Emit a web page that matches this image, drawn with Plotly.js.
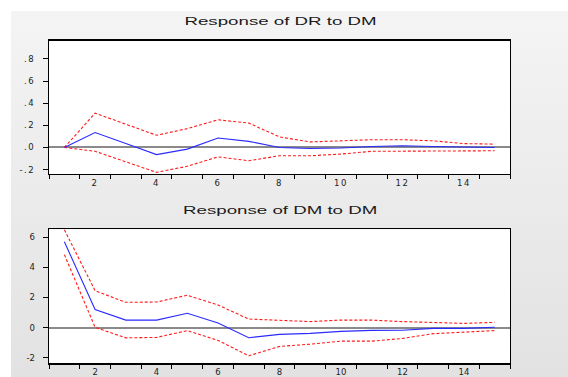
<!DOCTYPE html>
<html>
<head>
<meta charset="utf-8">
<script src="https://cdn.plot.ly/plotly-3.0.1.min.js"></script>
<style>
html,body{margin:0;padding:0;background:#fff;}
#chart{width:568px;height:377px;background-color:#fff;
  background-image:linear-gradient(#f4f4f4,#e2e2e2);background-repeat:no-repeat;
  background-position:11px 11px;background-size:557px 366px;}
.ttl .annotation-text{transform-box:fill-box;transform-origin:center;transform:scaleX(1.7);}
.xtick text{letter-spacing:1.6px;}
.ytick text{letter-spacing:1.4px;}
</style>
</head>
<body>
<div id="chart"></div>
<script>
// Periods
var periods = [1,2,3,4,5,6,7,8,9,10,11,12,13,14,15];

// Response of DR to DM
var drResp  = [0, 0.135, 0.035, -0.065, -0.015, 0.085, 0.055, 0.0, -0.01, -0.005, 0.008, 0.015, 0.008, 0.004, 0.0];
var drUpper = [0, 0.31, 0.21, 0.11, 0.17, 0.25, 0.22, 0.095, 0.05, 0.06, 0.07, 0.07, 0.06, 0.035, 0.03];
var drLower = [0, -0.035, -0.13, -0.225, -0.17, -0.085, -0.12, -0.075, -0.075, -0.06, -0.035, -0.035, -0.035, -0.03, -0.03];

// Response of DM to DM
var dmResp  = [5.7, 1.2, 0.5, 0.5, 0.95, 0.3, -0.67, -0.45, -0.38, -0.25, -0.18, -0.17, -0.05, -0.05, 0.02];
var dmUpper = [6.5, 2.45, 1.68, 1.7, 2.15, 1.5, 0.57, 0.5, 0.4, 0.5, 0.5, 0.4, 0.35, 0.28, 0.35];
var dmLower = [4.85, 0.02, -0.68, -0.65, -0.2, -0.85, -1.87, -1.25, -1.1, -0.9, -0.9, -0.72, -0.4, -0.3, -0.2];

var xLabelVals = [2,4,6,8,10,12,14];
var drTickVals = [-0.2,0,0.2,0.4,0.6,0.8];
var drTickText = ['-.2','.0','.2','.4','.6','.8'];
var dmTickVals = [-2,0,2,4,6];
var dmTickText = ['-2','0','2','4','6'];
var titles = ['Response of DR to DM','Response of DM to DM'];

var W = 568, H = 377;
var red = '#ff1a1a', blue = '#2a2aff';

function line(x, y, xa, ya, color, dash){
  return {x:x, y:y, xaxis:xa, yaxis:ya, type:'scatter', mode:'lines',
          line:{color:color, width:1.1, dash:dash}, hoverinfo:'skip', showlegend:false};
}

var traces = [
  line(periods, drUpper, 'x', 'y', red, '3px,2px'),
  line(periods, drLower, 'x', 'y', red, '3px,2px'),
  line(periods, drResp,  'x', 'y', blue, 'solid'),
  line(periods, dmUpper, 'x2', 'y2', red, '3px,2px'),
  line(periods, dmLower, 'x2', 'y2', red, '3px,2px'),
  line(periods, dmResp,  'x2', 'y2', blue, 'solid')
];

var minorVals = [];
for (var i = 0; i <= 15; i++) minorVals.push(i + 0.5);

var tickFont = {family:'DejaVu Sans, Liberation Sans, Arial', size:8.5, color:'#222'};

function xax(anchor){
  return {range:[0.5,15.5], domain:[49/W, 510/W], anchor:anchor,
    tickmode:'array', tickvals:xLabelVals, ticks:'', ticklen:0,
    showgrid:false, zeroline:false, showline:true, mirror:true,
    linecolor:'#000', linewidth:1.3, tickfont:tickFont, ticklabelstandoff:0,
    minor:{tickmode:'array', tickvals:minorVals, ticks:'outside', ticklen:4, tickcolor:'#000', tickwidth:1, showgrid:false}
  };
}
function yax(anchor, range, dom, tv, tt){
  return {range:range, domain:dom, anchor:anchor,
    tickmode:'array', tickvals:tv, ticktext:tt, ticks:'outside', ticklen:5,
    tickcolor:'#000', tickwidth:1, showgrid:false,
    zeroline:true, zerolinecolor:'#8a8a8a', zerolinewidth:2,
    showline:true, mirror:true, linecolor:'#000', linewidth:1.3,
    tickfont:tickFont, ticklabelstandoff:6};
}

var titleFont = {family:'Liberation Sans, Arial', size:11, color:'#1a1a1a'};
var annotations = [
  {text:titles[0], xref:'paper', yref:'paper', x:280/W, y:1 - 21/H, xanchor:'center', yanchor:'middle', showarrow:false, font:titleFont},
  {text:titles[1], xref:'paper', yref:'paper', x:280/W, y:1 - 210/H, xanchor:'center', yanchor:'middle', showarrow:false, font:titleFont}
];

var layout = {
  width:W, height:H,
  margin:{l:0, r:0, t:0, b:0},
  paper_bgcolor:'rgba(0,0,0,0)', plot_bgcolor:'#ffffff',
  showlegend:false,
  xaxis: xax('y'),
  yaxis: yax('x', [-0.24, 0.965], [1 - 174/H, 1 - 40.7/H], drTickVals, drTickText),
  xaxis2: xax('y2'),
  yaxis2: yax('x2', [-2.37, 6.53], [1 - 363.3/H, 1 - 229.3/H], dmTickVals, dmTickText),
  annotations: annotations
};

Plotly.newPlot('chart', traces, layout, {displayModeBar:false, staticPlot:true}).then(function(){
  var anns = document.querySelectorAll('.annotation');
  for (var j = 0; j < anns.length; j++) anns[j].classList.add('ttl');
});
</script>
</body>
</html>
